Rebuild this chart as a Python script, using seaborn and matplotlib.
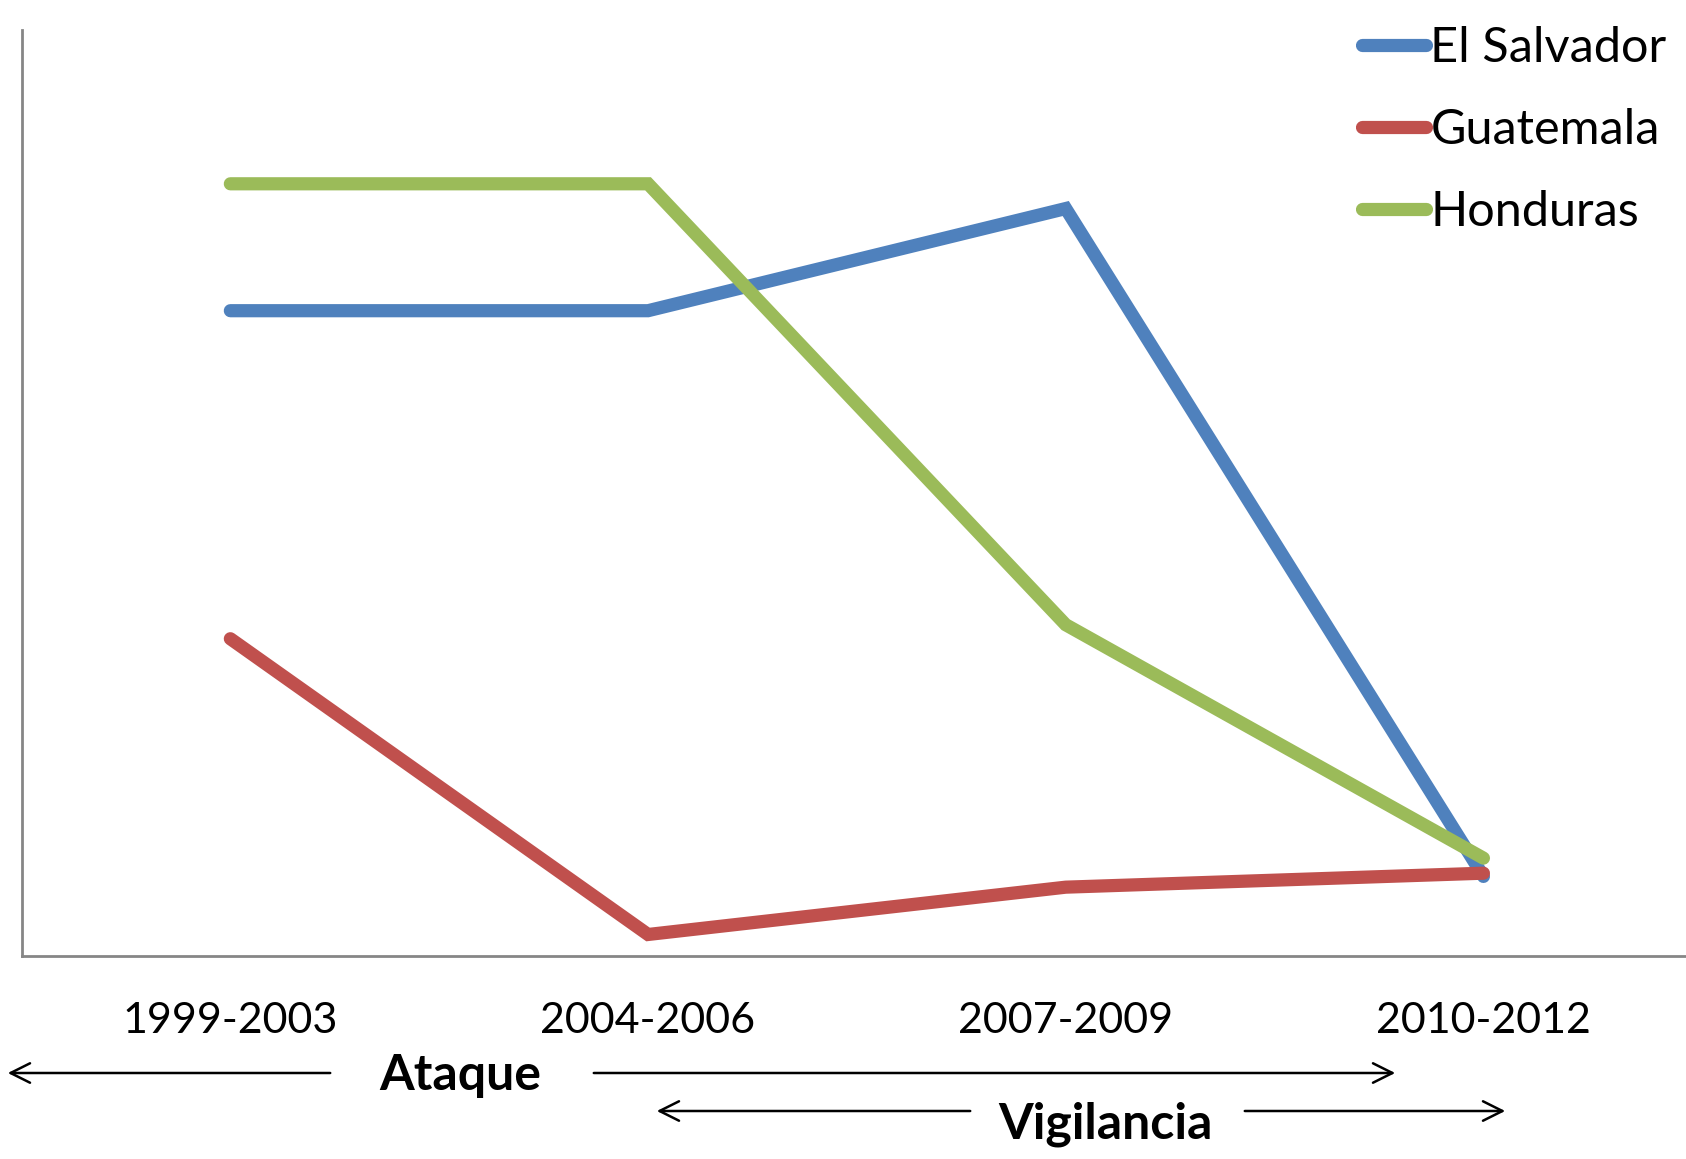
import numpy as np
import pandas as pd
import matplotlib
matplotlib.use('Agg')
import matplotlib.pyplot as plt
import seaborn as sns

# data (arbitrary units)
periodos = ['1999-2003', '2004-2006', '2007-2009', '2010-2012']
el_salvador = [600, 600, 695, 74]
guatemala = [295, 20, 64, 77]
honduras = [718, 718, 308, 91]
paises = ['El Salvador', 'Guatemala', 'Honduras']
colores = ['#4F81BD', '#C0504D', '#9BBB59']

df = pd.DataFrame({
    'periodo': periodos * 3,
    'valor': el_salvador + guatemala + honduras,
    'pais': np.repeat(paises, len(periodos)),
})

sns.set_style('white')
plt.rcParams['font.family'] = ['Lato', 'DejaVu Sans']
plt.rcParams['text.color'] = 'black'
plt.rcParams['xtick.labelcolor'] = 'black'

fig = plt.figure(figsize=(16.86, 11.59), dpi=100)
ax = fig.add_axes([21.5 / 1686, 1 - 956 / 1159, 1 - 21.5 / 1686, (956 - 30) / 1159])

sns.lineplot(data=df, x='periodo', y='valor', hue='pais', palette=colores,
             linewidth=9.5, ax=ax, sort=False, legend=False)
for ln in ax.get_lines():
    ln.set_solid_capstyle('round')
    ln.set_solid_joinstyle('miter')

ax.set_xlim(-0.5, 3.485)
ax.set_ylim(0, 861)
ax.set_yticks([])
ax.set_xlabel('')
ax.set_ylabel('')
ax.tick_params(axis='x', length=0, labelsize=31, pad=33, labelcolor='black')
for s in ['top', 'right']:
    ax.spines[s].set_visible(False)
for s in ['left', 'bottom']:
    ax.spines[s].set_color('#868686')
    ax.spines[s].set_linewidth(2)

# legend
handles = [plt.Line2D([], [], color=c, lw=9.5, solid_capstyle='round') for c in colores]
ax.legend(handles, paises, loc='upper right', bbox_to_anchor=(1.0, 1.025),
          frameon=False, fontsize=35, handlelength=1.3, handletextpad=0.1,
          labelspacing=0.78, borderaxespad=0, labelcolor='black')

# arrows under the axis
def flecha(x0, x1, y):
    fig.add_artist(plt.matplotlib.patches.FancyArrowPatch(
        (x0 / 1686, 1 - y / 1159), (x1 / 1686, 1 - y / 1159),
        transform=fig.transFigure, arrowstyle='->', mutation_scale=35,
        lw=1.8, color='black'))

flecha(333, 5, 1073)
flecha(591, 1398, 1073)
flecha(973, 654, 1111)
flecha(1242, 1508, 1111)
fig.text(460 / 1686, 1 - 1075 / 1159, 'Ataque', fontsize=36, fontweight='bold',
         ha='center', va='center', color='black')
fig.text(1105 / 1686, 1 - 1124 / 1159, 'Vigilancia', fontsize=36, fontweight='bold',
         ha='center', va='center', color='black')

fig.savefig('out.png', dpi=100)
